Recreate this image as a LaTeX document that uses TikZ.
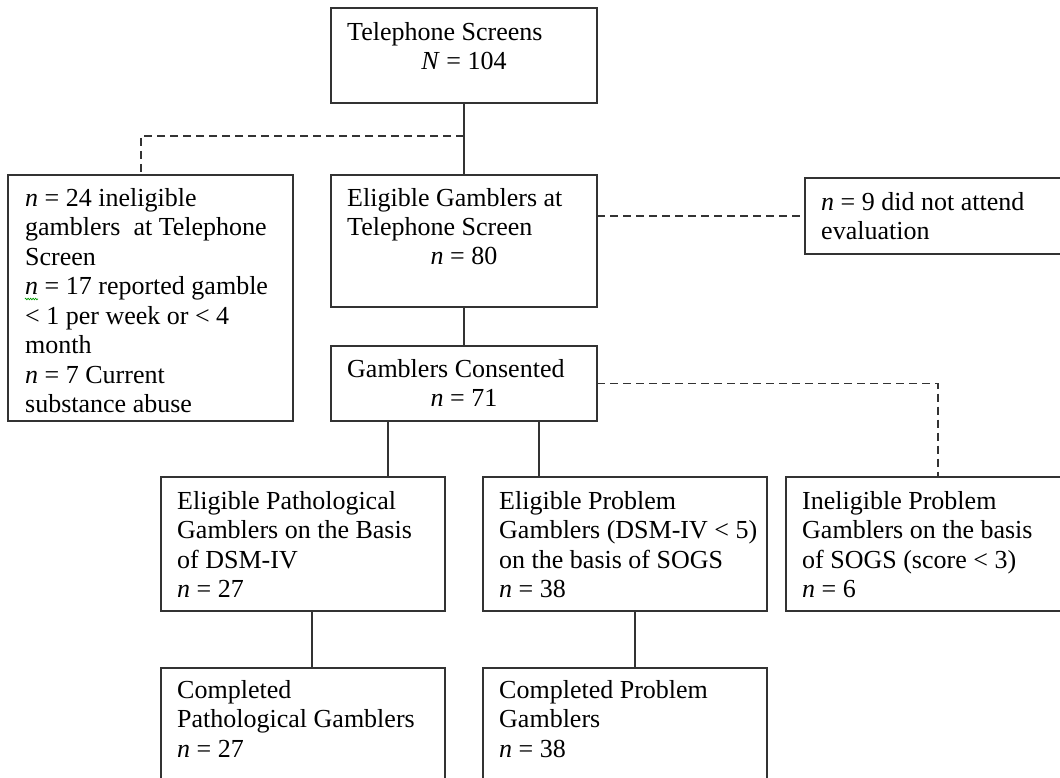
\documentclass[tikz,border=0pt]{standalone}
\usepackage{fontspec}
\setmainfont{Liberation Serif}
\usetikzlibrary{decorations.pathmorphing}
\begin{document}
\begin{tikzpicture}[x=1pt,y=-1pt,
  box/.style={draw=black!80, line width=1.9pt, rectangle, inner sep=0pt, outer sep=0pt, anchor=north west},
  conn/.style={draw=black!80, line width=1.9pt},
  dconn/.style={conn, dash pattern=on 8pt off 5pt},
  txt/.style={anchor=north west, inner sep=0pt, align=left, font=\fontsize{26}{29.5}\selectfont},
  ctxt/.style={anchor=base, inner sep=0pt, font=\fontsize{26}{29.5}\selectfont},
  squig/.style={draw=green!60!black, line width=0.7pt, decorate, decoration={zigzag, amplitude=0.8pt, segment length=2.5pt}}]
\useasboundingbox (0,0) rectangle (1060,778);
\clip (0,0) rectangle (1060,778);
% boxes
\node[box, minimum width=266pt, minimum height=95pt]  (top)   at (331,8)   {};
\node[box, minimum width=285pt, minimum height=246pt] (left)  at (8,175)   {};
\node[box, minimum width=266pt, minimum height=132pt] (elig)  at (331,175) {};
\node[box, minimum width=260pt, minimum height=76pt]  (dna)   at (805,178) {};
\node[box, minimum width=266pt, minimum height=75pt]  (cons)  at (331,346) {};
\node[box, minimum width=284pt, minimum height=134pt] (path)  at (161,477) {};
\node[box, minimum width=284pt, minimum height=134pt] (prob)  at (483,477) {};
\node[box, minimum width=280pt, minimum height=134pt] (inel)  at (786,477) {};
\node[box, minimum width=284pt, minimum height=120pt] (cpath) at (161,668) {};
\node[box, minimum width=284pt, minimum height=120pt] (cprob) at (483,668) {};
% texts
\node[txt] (ttop) at (347,18) {\rule{0pt}{22pt}Telephone Screens};
\node[ctxt] (ntop) at (464,69.5) {\textit{N} = 104};
\node[txt] (tleft) at (25,184) {\rule{0pt}{22pt}\textit{n} = 24 ineligible\\gamblers~ at Telephone\\Screen\\\textit{n} = 17 reported gamble\\< 1 per week or < 4\\month\\\textit{n} = 7 Current\\substance abuse};
\node[txt] (telig) at (347,184) {\rule{0pt}{22pt}Eligible Gamblers at\\Telephone Screen};
\node[ctxt] (nelig) at (464,265) {\textit{n} = 80};
\node[txt] (tdna) at (821,188) {\rule{0pt}{22pt}\textit{n} = 9 did not attend\\evaluation};
\node[txt] (tcons) at (347,355) {\rule{0pt}{22pt}Gamblers Consented};
\node[ctxt] (ncons) at (464,406.5) {\textit{n} = 71};
\node[txt] (tpath) at (177,487) {\rule{0pt}{22pt}Eligible Pathological\\Gamblers on the Basis\\of DSM-IV\\\textit{n} = 27};
\node[txt] (tprob) at (499,487) {\rule{0pt}{22pt}Eligible Problem\\Gamblers (DSM-IV < 5)\\on the basis of SOGS\\\textit{n} = 38};
\node[txt] (tinel) at (802,487) {\rule{0pt}{22pt}Ineligible Problem\\Gamblers on the basis\\of SOGS (score < 3)\\\textit{n} = 6};
\node[txt] (tcpath) at (177,676) {\rule{0pt}{22pt}Completed\\Pathological Gamblers\\\textit{n} = 27};
\node[txt] (tcprob) at (499,676) {\rule{0pt}{22pt}Completed Problem\\Gamblers\\\textit{n} = 38};
% spell-check mark
\coordinate (sq1) at (25,299);
\coordinate (sq2) at (38,299);
\draw[squig] (sq1) -- (sq2);
% connectors
\draw[conn] (top.south) -- (elig.north);
\draw[dconn] ([yshift=-33pt]top.south) -| ([xshift=133pt]left.north west);
\draw[dconn] (elig.east |- dna.west) -- (dna.west);
\draw[conn] (elig.south) -- (cons.north);
\draw[conn] ([xshift=-76pt]cons.south) -- ([xshift=-76pt]cons.south |- path.north);
\draw[conn] ([xshift=75pt]cons.south) -- ([xshift=75pt]cons.south |- prob.north);
\draw[dconn] (cons.east) -| ([xshift=12pt]inel.north);
\draw[conn] ([xshift=9pt]path.south) -- ([xshift=9pt]path.south |- cpath.north);
\draw[conn] ([xshift=10pt]prob.south) -- ([xshift=10pt]prob.south |- cprob.north);
\end{tikzpicture}
\end{document}
